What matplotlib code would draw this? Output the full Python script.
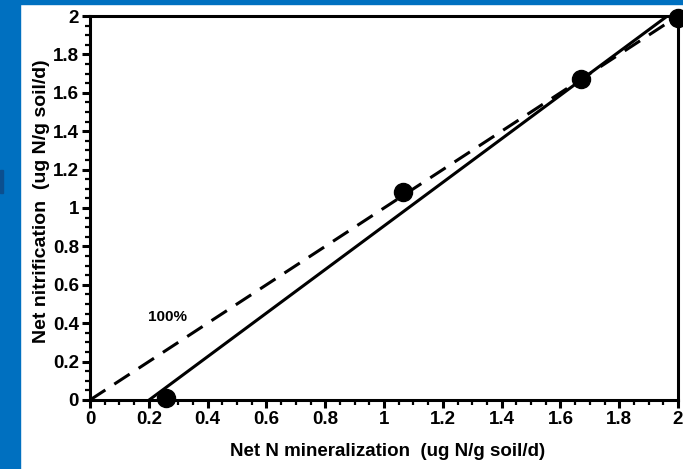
import numpy as np
import matplotlib
matplotlib.use("Agg")
import matplotlib.pyplot as plt
from matplotlib.patches import Rectangle
from matplotlib.ticker import MultipleLocator

# data
mineralization = [0.26, 1.065, 1.67, 2.0]
nitrification = [0.01, 1.085, 1.67, 1.99]
one_to_one = [0, 2]

plt.rcParams['font.family'] = ['Liberation Sans', 'DejaVu Sans']
plt.rcParams['font.weight'] = 'bold'

fig = plt.figure(figsize=(6.83, 4.69), dpi=100)
# blue frame of the slide
fig.patches.append(Rectangle((0, 0), 20 / 683, 1, transform=fig.transFigure,
                             color='#0070C0', zorder=0))
fig.patches.append(Rectangle((0, 1 - 4 / 469), 1, 4 / 469, transform=fig.transFigure,
                             color='#0070C0', zorder=0))
fig.patches.append(Rectangle((0, 1 - 193 / 469), 3 / 683, 23 / 469, transform=fig.transFigure,
                             color='#0b4f8f', zorder=1))

ax = fig.add_axes([90 / 683, 1 - 400 / 469, 588 / 683, 384 / 469])

# regression line through the points
slope, icpt = np.polyfit(mineralization, nitrification, 1)
x0 = -icpt / slope
ax.plot([x0, 2], [0, slope * 2 + icpt], color='black', lw=2.2, zorder=2)
ax.plot(one_to_one, one_to_one, color='black', lw=2.2, dashes=(6, 3.5), zorder=2)
ax.plot(mineralization, nitrification, 'o', color='black', ms=13, zorder=3, clip_on=False)

ax.text(0.262, 0.43, '100%', fontsize=11, fontweight='bold', ha='center', va='center')

ax.set_xlim(0, 2)
ax.set_ylim(0, 2)
ax.xaxis.set_major_locator(MultipleLocator(0.2))
ax.xaxis.set_minor_locator(MultipleLocator(0.05))
ax.yaxis.set_major_locator(MultipleLocator(0.2))
ax.yaxis.set_minor_locator(MultipleLocator(0.05))
fmt = lambda v, p: ('%.1f' % v).rstrip('0').rstrip('.') if v else '0'
ax.xaxis.set_major_formatter(fmt)
ax.yaxis.set_major_formatter(fmt)
for s in ax.spines.values():
    s.set_linewidth(2.2)
ax.tick_params(which='major', length=6, width=2.2, labelsize=13.5, pad=2)
ax.tick_params(which='minor', length=3.5, width=1.6)

ax.set_xlabel('Net N mineralization  (ug N/g soil/d)', fontsize=13.5, fontweight='bold', va='center')
ax.set_ylabel('Net nitrification  (ug N/g soil/d)', fontsize=14, fontweight='bold', va='center')
ax.xaxis.set_label_coords(0.506, -0.135)
ax.yaxis.set_label_coords(-0.082, 0.518)

fig.savefig('out.png', dpi=100)
